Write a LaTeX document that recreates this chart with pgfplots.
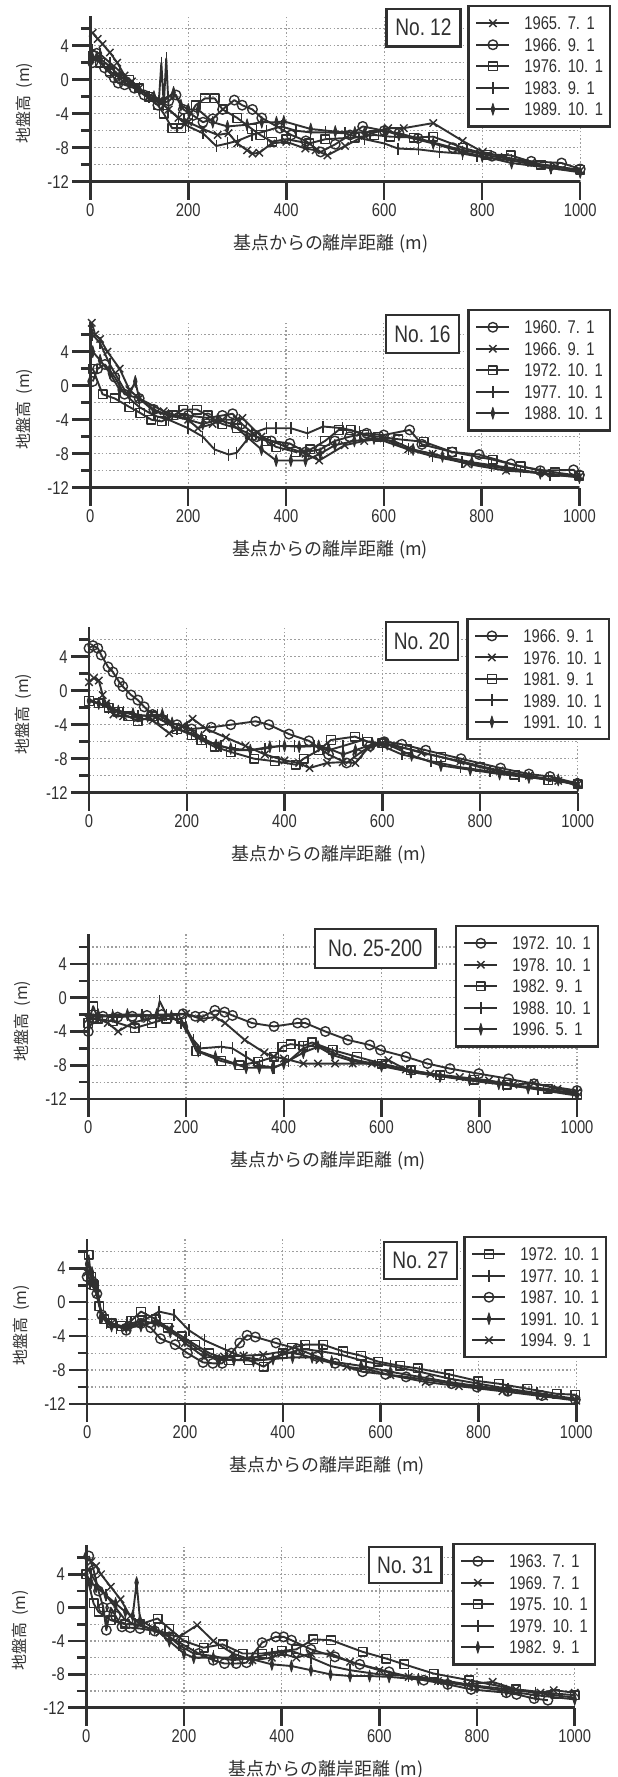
\documentclass[border=0pt]{standalone}
\usepackage{fontspec}
\setmainfont{Liberation Sans}[FakeStretch=0.8]
\newfontfamily\jp{Noto Sans CJK JP}
\usepackage{pgfplots}
\pgfplotsset{compat=1.18}
\definecolor{ink}{HTML}{303030}
\definecolor{gridc}{HTML}{9E9E9E}
\newcommand\dt[3]{#1.\hspace{6.5bp}#2.\hspace{6.5bp}#3}
\tikzset{ttl/.style={draw=ink, line width=2.2bp, fill=white, inner sep=0pt, font=\fontsize{24}{26}\selectfont, text=ink}}
\pgfplotsset{
 panel/.style={
  scale only axis, clip=false,
  xmin=0,xmax=1000,ymin=-12,ymax=7.5,
  axis lines=left, axis line style={-, line width=2.5bp, draw=ink},
  xtick={0,200,400,600,800,1000}, xticklabels={0,200,400,600,800,1000},
  ytick={-12,-8,-4,0,4}, yticklabels={-12,-8,-4,0,4},
  minor ytick={-10,-6,-2,2,6},
  tick align=outside, major tick length=18bp, minor tick length=9.5bp,
  every tick/.append style={line width=2.5bp, draw=ink},
  ymajorgrids, yminorgrids, xmajorgrids,
  grid style={draw=gridc, line width=1.2bp, dash pattern=on 1.6bp off 2.2bp},
  tick label style={font=\fontsize{18.5}{20}\selectfont, text=ink},
  xlabel={\jp\fontsize{18}{20}\selectfont 基点からの離岸距離\hspace{5bp}(m)},
  xlabel style={at={(axis description cs:0.491,0)}, anchor=center, yshift=-62bp, text=ink},
  ylabel={\jp\fontsize{16}{18}\selectfont 地盤高\hspace{7bp}(m)},
  ylabel style={at={(axis description cs:-0.135,0.475)}, anchor=center, text=ink},
  legend cell align=left,
  legend style={draw=ink, line width=2.2bp, fill=white, font=\fontsize{18.5}{20}\selectfont, text=ink,
    inner xsep=7bp, inner ysep=10.5bp, row sep=8.2bp, column sep=14bp,
    nodes={inner sep=0bp, text height=13.3bp, text depth=0bp}, anchor=north east},
  legend image code/.code={\draw[mark repeat=2,mark phase=2,##1] plot coordinates {(0bp,0bp)(16.5bp,0bp)(33bp,0bp)};},
 },
 ser/.style={color=ink, line width=1.9bp, line join=round, mark options={line width=1.4bp, solid}},
 mO/.style={ser, mark=o, mark size=4.8bp},
 mX/.style={ser, mark=x, mark size=5.2bp},
 mS/.style={ser, mark=square, mark size=4.3bp},
 mV/.style={ser, mark=|, mark size=6bp},
 mD/.style={ser, mark=diamond*, mark size=6bp, mark options={line width=0.8bp, solid, fill=ink, xscale=0.4}},
}
\begin{document}
\begin{tikzpicture}
\useasboundingbox (0,0) rectangle (618bp,-1777bp);
\fill[white] (0,0) rectangle (618bp,-1777bp);

% ---------------- No. 12
\begin{axis}[panel, at={(90.3bp,-181.7bp)}, anchor=south west, width=489.9bp, height=165.75bp,
  legend style={at={(1.063,1.066)}}]
\addplot[mX] coordinates {(5,5.5)(15,4.8)(25,4.2)(40,3.2)(55,2)(70,0.5)(85,-0.2)(100,-1)(120,-2)(140,-2.5)(160,-3.5)(180,-4.5)(200,-5)(230,-5.8)(260,-6.5)(282,-6.3)(300,-7.5)(320,-8.3)(331,-8.7)(345,-8.6)(370,-7.5)(400,-7.3)(439,-8.1)(460,-8.3)(484,-8.9)(520,-7.8)(560,-6.6)(608,-5.7)(640,-5.7)(700,-5.1)(760,-7.2)(801,-8.5)(846,-9.1)(900,-9.8)(950,-10.2)(1000,-10.7)};
\addplot[mO] coordinates {(5,2)(13,3.1)(29,1.4)(40,0.8)(49,0.2)(57,-0.4)(70,-0.6)(90,-1)(110,-1.8)(138,-3)(160,-2.5)(175,-1.8)(190,-3.5)(210,-4.2)(230,-5)(250,-4.6)(270,-3.5)(294,-2.4)(310,-3)(331,-3.5)(350,-4.5)(387,-5.7)(410,-6.5)(440,-7.2)(470,-8.5)(500,-7.6)(530,-6.5)(556,-5.5)(600,-6)(630,-6.3)(669,-6.9)(740,-8)(820,-9)(900,-9.6)(962,-9.8)(1000,-10.5)};
\addplot[mS] coordinates {(5,2.8)(20,2)(40,1)(60,0.2)(80,0)(100,-1)(120,-2)(138,-3)(150,-4)(167,-5.7)(186,-5.7)(200,-4.5)(215,-3)(234,-2.2)(254,-2.2)(270,-3.5)(300,-4.5)(330,-5.8)(347,-6.5)(371,-7.3)(400,-7)(447,-7.5)(480,-7)(540,-6.8)(580,-6.5)(612,-6.7)(660,-6.8)(700,-6.7)(760,-8)(810,-8.8)(858,-8.9)(920,-10)(1000,-10.6)};
\addplot[mV] coordinates {(5,3.5)(20,3)(40,2)(60,1)(80,-0.5)(100,-1)(120,-2)(140,-2.5)(145,2)(150,-3)(155,2.5)(160,-3.5)(180,-4.5)(200,-5.5)(230,-6.3)(257,-7.8)(280,-7.5)(300,-7.2)(330,-6.5)(360,-6)(390,-5.5)(420,-6)(450,-6.2)(480,-6.2)(520,-6.3)(560,-7)(600,-7.5)(628,-8.1)(670,-8.2)(713,-8.5)(760,-8.7)(789,-9)(860,-9.5)(940,-10.4)(1000,-10.8)};
\addplot[mD] coordinates {(5,2.5)(20,2.5)(40,1.5)(60,0.5)(80,-0.5)(100,-1.2)(130,-2)(150,-2.5)(170,-1.5)(185,-3)(200,-3.5)(220,-3.5)(250,-5)(280,-5.5)(320,-5.3)(350,-5)(380,-5)(395,-4.9)(450,-5.8)(500,-6.1)(540,-6.2)(560,-6.2)(600,-6)(630,-6.5)(700,-7.5)(760,-8.5)(800,-9)(860,-9.8)(940,-10.4)(1000,-10.9)};
\legend{\dt{1965}{7}{1},\dt{1966}{9}{1},\dt{1976}{10}{1},\dt{1983}{9}{1},\dt{1989}{10}{1}}
\node[ttl, minimum width=74bp, minimum height=37.7bp] at (axis description cs:0.680,0.930) {No.\hspace{5bp}12};
\end{axis}

% ---------------- No. 16
\begin{axis}[panel, at={(90.3bp,-487.7bp)}, anchor=south west, width=489.1bp, height=165.75bp,
  legend style={at={(1.0646,1.078)}}]
\addplot[mO] coordinates {(5,0.5)(15,2)(30,2.5)(50,1)(70,-1)(100,-1.5)(130,-2.8)(160,-3.5)(200,-3.5)(240,-3.8)(270,-3.5)(291,-3.3)(310,-4.5)(340,-6)(370,-6.5)(408,-6.8)(440,-7.8)(470,-7.5)(500,-6.5)(530,-6)(565,-5.6)(600,-5.8)(653,-5.2)(678,-6.9)(740,-7.8)(795,-8.1)(860,-9.2)(920,-10)(988,-9.9)(1000,-10.5)};
\addplot[mX] coordinates {(3,7.4)(10,6)(20,5.5)(35,4)(60,2)(80,-0.5)(100,-1.5)(150,-3)(200,-4)(220,-5)(250,-4.5)(270,-4)(300,-4)(311,-3.8)(350,-6)(400,-7.2)(440,-8)(468,-8.8)(520,-7)(560,-6.5)(600,-6.2)(650,-7.5)(700,-8)(770,-9.2)(850,-10)(930,-10.3)(1000,-10.7)};
\addplot[mS] coordinates {(5,2)(25,-1)(50,-1.5)(80,-2.5)(102,-3.2)(125,-4)(146,-4.2)(170,-3.5)(190,-2.8)(218,-2.8)(240,-3.5)(270,-4.5)(300,-5)(330,-5.8)(360,-6.5)(380,-7.2)(420,-7.8)(450,-7.5)(480,-6.5)(508,-5.2)(532,-5.2)(560,-5.8)(589,-6)(630,-6.3)(682,-6.6)(740,-7.8)(823,-8.7)(880,-9.5)(950,-10.2)(1000,-10.6)};
\addplot[mV] coordinates {(5,6)(20,5)(40,2.5)(60,0.5)(80,-1.5)(100,-2.5)(130,-3.5)(160,-4)(200,-5)(230,-6)(254,-7.5)(283,-8.1)(299,-7.9)(331,-5.6)(360,-5)(380,-5)(410,-5)(444,-5.6)(476,-4.8)(516,-5)(550,-5.5)(600,-6.5)(650,-7.5)(700,-8.3)(760,-9)(820,-9.5)(880,-10)(940,-10.5)(1000,-10.7)};
\addplot[mD] coordinates {(5,4)(20,3)(40,1.5)(60,-0.5)(80,-1)(92,0.5)(100,-1.5)(130,-3)(160,-3.5)(200,-4)(230,-4.5)(260,-4)(290,-4.5)(320,-6)(350,-7.5)(380,-8.8)(410,-8.8)(440,-8.8)(470,-8)(500,-7)(540,-6.5)(580,-6.2)(620,-6.5)(660,-7.5)(720,-8.3)(780,-9)(850,-9.6)(920,-10.3)(1000,-10.8)};
\legend{\dt{1960}{7}{1},\dt{1966}{9}{1},\dt{1972}{10}{1},\dt{1977}{10}{1},\dt{1988}{10}{1}}
\node[ttl, minimum width=73.5bp, minimum height=38bp] at (axis description cs:0.679,0.927) {No.\hspace{5bp}16};
\end{axis}

% ---------------- No. 20
\begin{axis}[panel, at={(89bp,-792.7bp)}, anchor=south west, width=488.8bp, height=165.75bp,
  legend style={at={(1.066,1.056)}}]
\addplot[mO] coordinates {(0,5)(8,5.3)(18,5)(25,4.2)(39,2.8)(49,2.2)(62,1)(69,0.5)(86,-0.5)(100,-1.1)(113,-1.9)(130,-2.8)(150,-3.5)(180,-4)(210,-4.5)(250,-4.3)(290,-4)(341,-3.6)(368,-4)(409,-5.1)(450,-5.9)(490,-7.5)(527,-8.5)(550,-7.5)(575,-6.5)(604,-6)(640,-6.3)(689,-7)(761,-8)(842,-9.1)(900,-9.8)(943,-10.1)(999,-10.9)};
\addplot[mX] coordinates {(0,1)(10,1.5)(20,1.2)(28,-0.5)(35,-1.5)(50,-2.8)(70,-3)(100,-3.2)(130,-3.5)(164,-5)(190,-4.2)(212,-3.3)(240,-4.5)(280,-5.5)(320,-6.5)(360,-7.5)(400,-8.2)(430,-8.5)(451,-9.1)(487,-8.5)(519,-8.4)(545,-8.5)(570,-6.8)(600,-6.2)(624,-6.4)(680,-7.3)(760,-8.3)(840,-9.4)(900,-10)(960,-10.6)(1000,-11)};
\addplot[mS] coordinates {(0,-1.2)(20,-1.5)(40,-2)(60,-2.5)(80,-3)(100,-3.6)(130,-3)(150,-3.5)(180,-4.5)(210,-5.2)(230,-5.8)(257,-6.6)(290,-7.2)(338,-8)(380,-8.3)(423,-8.7)(439,-8)(470,-7)(495,-5.8)(544,-5.4)(570,-6)(600,-6.2)(650,-6.8)(720,-7.8)(800,-9)(870,-9.9)(940,-10.5)(1000,-11)};
\addplot[mV] coordinates {(0,-1)(20,-1.5)(40,-2)(70,-2.5)(100,-3)(140,-2.8)(160,-3.5)(180,-4.5)(210,-5)(240,-6)(270,-6.5)(300,-7)(330,-7)(360,-6.8)(390,-6.5)(420,-6.5)(460,-6.5)(490,-7)(520,-6.5)(560,-5.8)(600,-6.5)(640,-7.5)(700,-8.3)(760,-9)(820,-9.5)(880,-10)(940,-10.4)(1000,-11)};
\addplot[mD] coordinates {(0,-1.2)(20,-1.5)(40,-1.8)(60,-2.4)(90,-2.7)(120,-3)(150,-2.8)(170,-3.8)(200,-4.3)(230,-5.5)(260,-6.4)(290,-6.8)(330,-7)(370,-6.6)(400,-6.5)(430,-6.6)(470,-6.5)(490,-6.8)(520,-7.5)(545,-7)(580,-6.3)(610,-6.3)(660,-7.6)(720,-8.8)(780,-9.3)(840,-9.8)(900,-10.2)(960,-10.5)(1000,-11.2)};
\legend{\dt{1966}{9}{1},\dt{1976}{10}{1},\dt{1981}{9}{1},\dt{1989}{10}{1},\dt{1991}{10}{1}}
\node[ttl, minimum width=72.5bp, minimum height=38bp] at (axis description cs:0.681,0.916) {No.\hspace{5bp}20};
\end{axis}

% ---------------- No. 25-200
\begin{axis}[panel, at={(88.3bp,-1099bp)}, anchor=south west, width=488.7bp, height=164.6bp,
  legend style={at={(1.045,1.057)}}]
\addplot[mO] coordinates {(0,-4)(10,-2.5)(30,-2.2)(60,-2.3)(90,-2.2)(120,-2.1)(150,-2)(194,-1.9)(219,-2.2)(235,-2.2)(259,-1.5)(279,-1.7)(295,-2.1)(335,-3)(380,-3.4)(428,-3)(444,-3)(485,-4)(531,-5)(576,-5.6)(598,-6.2)(650,-7)(694,-7.8)(740,-8.4)(799,-9)(860,-9.6)(912,-10.2)(1000,-11)};
\addplot[mX] coordinates {(0,-2.5)(20,-2.5)(40,-3)(61,-4)(90,-3)(120,-2.5)(150,-2.3)(200,-1.9)(230,-2.5)(260,-2.3)(280,-3)(320,-5)(360,-6.5)(380,-7)(400,-7.2)(440,-7.8)(470,-7.8)(505,-7.8)(541,-7.8)(580,-7.8)(614,-7.4)(650,-8.5)(700,-9)(760,-9.4)(820,-9.8)(870,-10.3)(912,-10.1)(960,-10.8)(1000,-11.2)};
\addplot[mS] coordinates {(0,-3)(10,-1)(20,-2.5)(50,-2.8)(95,-3.6)(130,-3)(160,-2.5)(190,-2.5)(221,-6.3)(272,-7.5)(310,-8)(348,-7.6)(380,-7)(397,-5.8)(414,-5.5)(440,-5.7)(458,-5.3)(500,-6.2)(550,-7)(600,-7.8)(660,-8.6)(720,-9.2)(790,-9.7)(856,-10.3)(940,-10.8)(1000,-11.5)};
\addplot[mV] coordinates {(0,-2)(20,-2.3)(50,-2)(80,-2)(110,-2)(140,-2.2)(146,-0.4)(160,-2)(190,-3)(215,-5)(230,-6)(272,-5.8)(295,-6)(323,-7)(350,-8)(380,-8.3)(410,-7.5)(440,-6)(465,-5.5)(500,-6.5)(540,-7.3)(600,-8)(660,-8.8)(720,-9.3)(780,-9.8)(850,-10.3)(920,-10.8)(1000,-11.3)};
\addplot[mD] coordinates {(0,-2.5)(20,-2)(50,-2.2)(80,-2)(110,-2.2)(140,-2)(170,-2.2)(200,-3.5)(225,-6.3)(260,-7)(300,-7.8)(323,-8.3)(350,-8.3)(377,-8.3)(400,-7.8)(440,-6.5)(470,-5.8)(500,-6.8)(540,-7.5)(600,-8.1)(660,-8.8)(720,-9.3)(780,-9.7)(840,-10.2)(900,-10.7)(1000,-11.6)};
\legend{\dt{1972}{10}{1},\dt{1978}{10}{1},\dt{1982}{9}{1},\dt{1988}{10}{1},\dt{1996}{5}{1}}
\node[ttl, minimum width=120.5bp, minimum height=38.7bp] at (axis description cs:0.587,0.915) {No.\hspace{5bp}25-200};
\end{axis}

% ---------------- No. 27
\begin{axis}[panel, at={(87.1bp,-1404bp)}, anchor=south west, width=489.2bp, height=165.4bp,
  legend style={at={(1.063,1.016)}}]
\addplot[mS] coordinates {(3,5.6)(8,3)(15,2)(25,-0.5)(35,-2)(50,-2.5)(70,-2.8)(90,-2.2)(110,-1.1)(140,-2)(165,-3)(193,-4)(221,-5)(250,-6)(290,-6.8)(330,-6.8)(361,-7.6)(400,-6)(419,-5.4)(446,-5)(483,-5)(523,-5.8)(560,-6.3)(595,-7)(640,-7.5)(676,-7.8)(740,-8.5)(800,-9.3)(841,-9.6)(900,-10.2)(960,-10.8)(998,-10.9)};
\addplot[mV] coordinates {(0,4)(10,3)(20,2)(28,-1)(40,-2.5)(60,-3)(90,-2.5)(120,-2)(147,-1.1)(178,-1.5)(208,-3.3)(240,-4.5)(283,-5.6)(320,-6.5)(360,-6.8)(400,-6.2)(440,-5.5)(480,-5.8)(520,-6.2)(570,-7)(620,-7.5)(680,-8.2)(740,-9)(800,-9.6)(860,-10.2)(920,-10.7)(1000,-11.4)};
\addplot[mO] coordinates {(0,3)(10,2.5)(20,1)(30,-1.5)(50,-2.5)(80,-3.3)(110,-2.5)(130,-3)(150,-4.3)(180,-5)(205,-6)(237,-7.1)(257,-7.2)(276,-7.2)(295,-6)(312,-4.8)(327,-3.9)(344,-4.1)(386,-4.8)(430,-5.5)(470,-6.4)(507,-7.2)(563,-8.2)(610,-8.5)(652,-8.8)(700,-9.2)(745,-9.6)(797,-10)(860,-10.5)(930,-11)(998,-11.5)};
\addplot[mD] coordinates {(0,4.5)(10,3.5)(20,1.5)(30,-1.8)(50,-2.8)(80,-3)(110,-2.8)(140,-2.2)(170,-3.5)(200,-4.5)(240,-6)(270,-6.8)(300,-6.8)(340,-6.9)(380,-6.7)(420,-6.5)(460,-6.5)(500,-7)(560,-7.5)(620,-8.2)(680,-8.8)(740,-9.4)(800,-9.9)(860,-10.3)(920,-10.8)(1000,-11.5)};
\addplot[mX] coordinates {(0,3.5)(10,2)(20,1)(30,-1.5)(50,-2.5)(80,-3)(110,-2.2)(140,-2.5)(170,-3.2)(200,-4.8)(240,-6.5)(280,-6.4)(320,-6.3)(360,-6.2)(400,-5.8)(440,-6.2)(475,-6.8)(531,-7.6)(580,-8)(620,-8.6)(692,-9.4)(760,-9.9)(849,-10.5)(934,-11.1)(1000,-11.6)};
\legend{\dt{1972}{10}{1},\dt{1977}{10}{1},\dt{1987}{10}{1},\dt{1991}{10}{1},\dt{1994}{9}{1}}
\node[ttl, minimum width=73bp, minimum height=37.3bp] at (axis description cs:0.6815,0.868) {No.\hspace{5bp}27};
\end{axis}

% ---------------- No. 31
\begin{axis}[panel, at={(86.3bp,-1707.7bp)}, anchor=south west, width=488.4bp, height=162.6bp,
  legend style={at={(1.0436,1.013)}}]
\addplot[mO] coordinates {(5,6.2)(15,4.5)(25,2)(35,0)(41,-2.7)(50,0)(60,-1)(73,-2.3)(90,-2.4)(110,-2.5)(140,-2.8)(170,-3.5)(200,-4.5)(230,-5.5)(260,-6.3)(283,-6.7)(307,-6.7)(328,-6.6)(360,-4.2)(388,-3.5)(404,-3.5)(420,-3.9)(460,-5)(509,-5.9)(560,-6.8)(620,-7.7)(691,-8.7)(740,-9.2)(788,-9.8)(860,-10.2)(881,-10.4)(917,-10.9)(945,-11.1)};
\addplot[mX] coordinates {(10,5.5)(20,5)(30,4)(50,2.5)(70,1)(90,-1)(110,-2)(150,-3)(190,-3.5)(227,-2.1)(260,-4)(300,-5.5)(340,-6.3)(380,-6)(400,-5.5)(430,-6)(460,-5.5)(500,-5.5)(540,-6.5)(600,-7.5)(660,-8.3)(720,-8.8)(780,-9.2)(832,-8.9)(880,-9.8)(930,-10.2)(957,-9.9)(1000,-10.2)};
\addplot[mS] coordinates {(0,4)(15,0.5)(25,-0.5)(50,-1.5)(80,-2)(110,-2)(146,-1.3)(170,-2.5)(200,-4)(240,-4.8)(279,-4.4)(320,-5.5)(360,-5.5)(400,-5.2)(430,-5)(465,-3.8)(501,-3.9)(566,-5.3)(614,-6.1)(651,-6.8)(711,-7.9)(784,-8.7)(880,-9.8)(960,-10.3)(1000,-10.5)};
\addplot[mV] coordinates {(0,5)(10,4)(20,3)(40,1.5)(60,0)(80,-1.5)(100,-2)(130,-2.5)(160,-3)(190,-4.5)(220,-5.5)(260,-5.8)(300,-6.3)(340,-6)(380,-5.5)(420,-5.2)(460,-6)(500,-7)(540,-7.5)(600,-8)(660,-8.2)(720,-8.6)(790,-9.3)(850,-9.7)(920,-10.2)(1000,-10.8)};
\addplot[mD] coordinates {(0,4)(10,3)(20,2.5)(40,1.5)(60,0.5)(80,-0.5)(95,-1)(103,3)(110,-1.5)(140,-2.5)(170,-4)(200,-5.5)(220,-6)(260,-6)(300,-6)(340,-6.2)(380,-6.8)(420,-7)(460,-7.5)(500,-8)(540,-8.2)(580,-8.2)(620,-8.3)(680,-8.6)(740,-9)(800,-9.5)(860,-10)(920,-10.5)(1000,-11)};
\legend{\dt{1963}{7}{1},\dt{1969}{7}{1},\dt{1975}{10}{1},\dt{1979}{10}{1},\dt{1982}{9}{1}}
\node[ttl, minimum width=72.5bp, minimum height=36.3bp] at (axis description cs:0.653,0.878) {No.\hspace{5bp}31};
\end{axis}
\end{tikzpicture}
\end{document}
